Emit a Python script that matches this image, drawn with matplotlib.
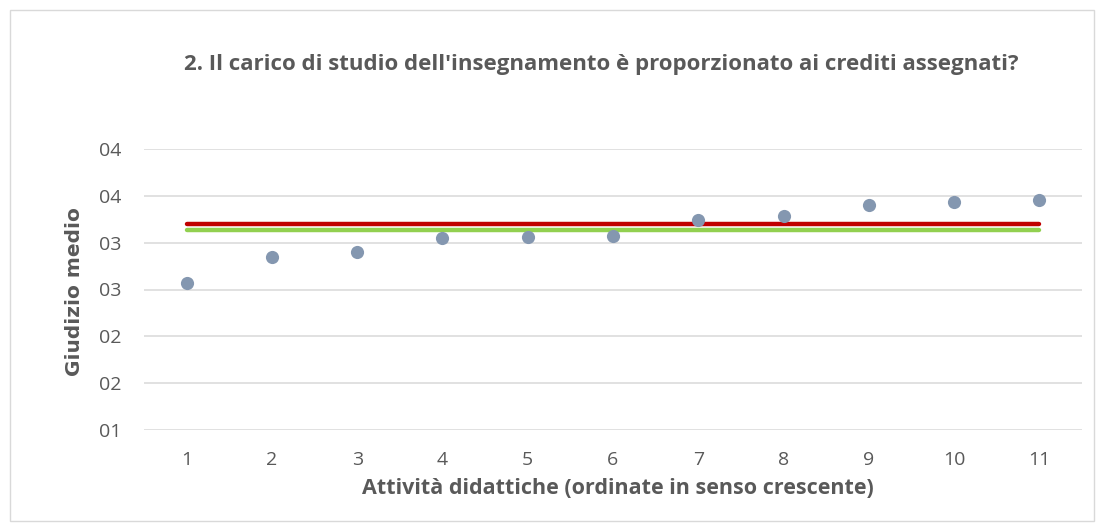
import matplotlib
matplotlib.use("Agg")
import matplotlib.pyplot as plt
from matplotlib.patches import Rectangle

activities = [1, 2, 3, 4, 5, 6, 7, 8, 9, 10, 11]
scores = [2.57, 2.85, 2.90, 3.05, 3.06, 3.07, 3.24, 3.28, 3.40, 3.435, 3.455]
red_line_value = 3.195
green_line_value = 3.14
y_ticks = [1.0, 1.5, 2.0, 2.5, 3.0, 3.5, 4.0]
y_tick_labels = ["01", "02", "02", "03", "03", "04", "04"]

plt.rcParams['font.family'] = ['Open Sans', 'DejaVu Sans']

fig = plt.figure(figsize=(11.04, 5.31), dpi=100)
fig.patches.append(Rectangle((10/1104, 10/531), 1084/1104, 511/531, transform=fig.transFigure,
                             fill=False, edgecolor="#D9D9D9", linewidth=1))

ax = fig.add_axes([144/1104, 1 - 430/531, (1082 - 144)/1104, (430 - 149)/531])
ax.set_xlim(0.5, 11.5)
ax.set_ylim(1.0, 4.0)
ax.set_yticks(y_ticks)
ax.set_yticklabels(y_tick_labels)
ax.set_xticks(activities)
ax.set_xticklabels([str(a) for a in activities])
ax.grid(axis="y", color="#D9D9D9", linewidth=1.1)
ax.set_axisbelow(True)
for s in ax.spines.values():
    s.set_visible(False)
ax.tick_params(length=0, labelsize=14, colors="#595959")
ax.tick_params(axis="y", pad=16)
ax.tick_params(axis="x", pad=15)

ax.plot([activities[0], activities[-1]], [red_line_value] * 2, color="#C00000", linewidth=3.2,
        solid_capstyle="round", zorder=3)
ax.plot([activities[0], activities[-1]], [green_line_value] * 2, color="#92D050", linewidth=3.2,
        solid_capstyle="round", zorder=2)
ax.scatter(activities, scores, s=90, color="#8497B0", zorder=4, linewidths=0)

fig.text(74/1104, 1 - 292/531, "Giudizio medio", rotation=90, ha="center", va="center",
         fontsize=14.5, fontweight="bold", color="#595959", family=["DejaVu Sans"])
fig.text(618/1104, 1 - 489/531, "Attività didattiche (ordinate in senso crescente)", ha="center", va="center",
         fontsize=15.5, fontweight="bold", color="#595959")
fig.text(601/1104, 1 - 65/531, "2. Il carico di studio dell'insegnamento è proporzionato ai crediti assegnati?",
         ha="center", va="center", fontsize=16, fontweight="bold", color="#595959")

fig.savefig("out.png", dpi=100)
